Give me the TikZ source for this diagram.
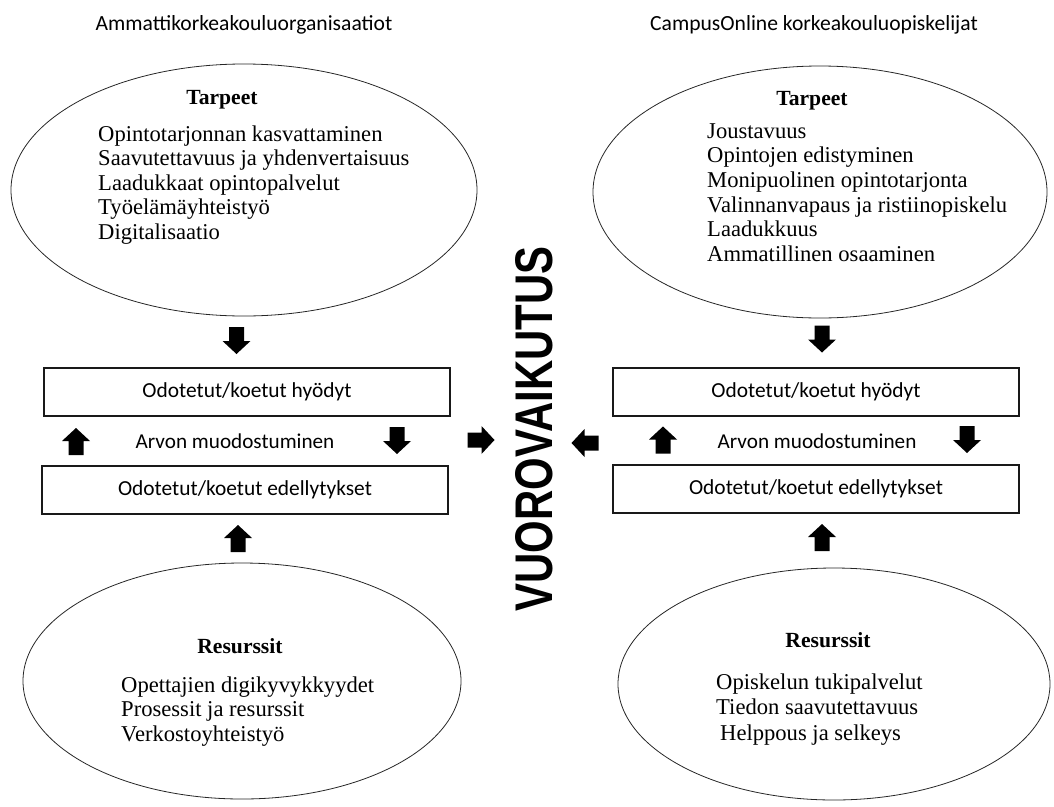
\documentclass[tikz,border=0pt]{standalone}
\usepackage{fontspec}
\setmainfont{Liberation Serif}
\newfontfamily\labelfont{Carlito}
\newfontfamily\bannerfont{Liberation Sans}
\usetikzlibrary{shapes.geometric}

\tikzset{
  bubble/.style={draw=black!85, line width=0.8pt, ellipse, inner sep=0pt},
  stage/.style={draw=black!90, line width=1.1pt, minimum width=406, minimum height=48, inner sep=0pt,
                font=\labelfont\fontsize{21.4}{24}\selectfont},
  heading/.style={font=\labelfont\fontsize{21.6}{24}\selectfont, inner sep=0pt},
  midlabel/.style={font=\labelfont\fontsize{21.2}{24}\selectfont, inner sep=0pt},
  title/.style={font=\bfseries\fontsize{21.6}{24}\selectfont, inner sep=0pt},
  item/.style={font=\fontsize{22.6}{25}\selectfont, anchor=west, inner sep=0pt,
               text height=15.5pt, text depth=4.8pt},
  blk/.pic={\fill (-13.5,-7.5) -- (0.5,-7.5) -- (0.5,-14) -- (13.5,0) -- (0.5,14) -- (0.5,7.5) -- (-13.5,7.5) -- cycle;}
}

\begin{document}
\begin{tikzpicture}[x=1pt,y=-1pt]
\useasboundingbox (0,0) rectangle (1054,806);

% column headings
\node[heading] (orgs) at (244,25) {Ammattikorkeakouluorganisaatiot};
\node[heading] (stud) at (814,25) {CampusOnline korkeakouluopiskelijat};

% needs (top ellipses)
\node[bubble, minimum width=466, minimum height=252] (needL) at (244,190) {};
\node[bubble, minimum width=454, minimum height=252] (needR) at (820,192) {};
\node[title] (needLt) at (222,100) {Tarpeet};
\node[title] (needRt) at (812,101) {Tarpeet};
\foreach \t [count=\i] in {Opintotarjonnan kasvattaminen, Saavutettavuus ja yhdenvertaisuus,
    Laadukkaat opintopalvelut, Työelämäyhteistyö, Digitalisaatio}
  \node[item] (needL-\i) at (98,{136+24.5*(\i-1)}) {\t};
\foreach \t [count=\i] in {Joustavuus, Opintojen edistyminen, Monipuolinen opintotarjonta,
    Valinnanvapaus ja ristiinopiskelu, Laadukkuus, Ammatillinen osaaminen}
  \node[item] (needR-\i) at (707,{133+24.6*(\i-1)}) {\t};

% value creation boxes
\node[stage] (benL) at (247,392) {Odotetut/koetut hyödyt};
\node[stage] (preL) at (245,490) {Odotetut/koetut edellytykset};
\node[midlabel] (valL) at (235,441) {Arvon muodostuminen};
\node[stage] (benR) at (816,392) {Odotetut/koetut hyödyt};
\node[stage] (preR) at (816,489) {Odotetut/koetut edellytykset};
\node[midlabel] (valR) at (817,441) {Arvon muodostuminen};

% resources (bottom ellipses)
\node[bubble, minimum width=438, minimum height=236] (resL) at (242,681) {};
\node[bubble, minimum width=432, minimum height=232] (resR) at (834,684) {};
\node[title] (resLt) at (240,646) {Resurssit};
\node[title] (resRt) at (828,640) {Resurssit};
\foreach \t [count=\i] in {Opettajien digikyvykkyydet, Prosessit ja resurssit, Verkostoyhteistyö}
  \node[item] (resL-\i) at (121,{687+24.5*(\i-1)}) {\t};
\node[item] (resR-1) at (716,684) {Opiskelun tukipalvelut};
\node[item] (resR-2) at (716,709) {Tiedon saavutettavuus};
\node[item] (resR-3) at (720,735) {Helppous ja selkeys};

% interaction banner
\node[font=\bannerfont\bfseries\fontsize{53}{60}\selectfont, inner sep=0pt, rotate=90, xscale=0.79]
  (inter) at (534,429) {VUOROVAIKUTUS};

% block arrows
\pic[rotate=-90] at (236.5,340.5) {blk};
\pic[rotate=-90] at (822,339) {blk};
\pic[rotate=90]  at (76,441.5) {blk};
\pic[rotate=-90] at (397,440.5) {blk};
\pic[rotate=90]  at (663,440) {blk};
\pic[rotate=-90] at (967,439.5) {blk};
\pic at (481,440) {blk};
\pic[rotate=180] at (585,443) {blk};
\pic[rotate=90]  at (238,538.5) {blk};
\pic[rotate=90]  at (822,537.5) {blk};
\end{tikzpicture}
\end{document}
